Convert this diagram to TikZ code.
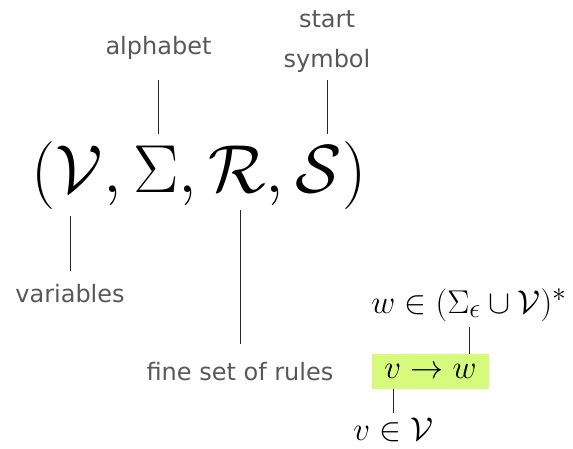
\documentclass[tikz,border=0pt]{standalone}
\usepackage{fontspec}
\newfontfamily\labfont{DejaVu Sans}
\definecolor{labgray}{RGB}{88,88,88}
\definecolor{rulegreen}{RGB}{214,250,124}
\newcommand{\tuplemath}[1]{\scalebox{2.733}{\Huge $#1$}}
\newcommand{\rulemath}[1]{\scalebox{1.3264}{\Huge $#1$}}
\begin{document}
\begin{tikzpicture}[x=1pt,y=-1pt,
  lab/.style={inner sep=0pt, text=labgray, font=\labfont\fontsize{24}{40}\selectfont},
  mathnode/.style={inner sep=0pt},
  conn/.style={draw=black!85, line width=0.8pt},
  rulebox/.style={fill=rulegreen, inner sep=0pt, minimum width=117pt, minimum height=35pt}]
\useasboundingbox (0,0) rectangle (573,449);
% main tuple
\node[mathnode, anchor=base] (tuple) at (199,193) {\tuplemath{(\mathcal{V},\Sigma,\mathcal{R},\mathcal{S})}};
% labels
\node[lab, anchor=base] (alphabet) at (158.5,55) {alphabet};
\node[lab, anchor=south, align=center] (start) at (327,73) {start\\symbol};
\node[lab, anchor=base] (variables) at (70,302) {variables};
\node[lab, anchor=base] (rules) at (240,380) {fine set of rules};
% connectors of the tuple
\draw[conn, shorten <=20pt, shorten >=8pt] (alphabet.south) -- (alphabet.south |- tuple.north);
\draw[conn, shorten <=7pt, shorten >=8pt] (start.south) -- (start.south |- tuple.north);
\draw[conn, shorten <=13pt, shorten >=6pt] (variables.north) -- (variables.north |- tuple.south);
\draw[conn, shorten <=18pt] (rules.north) -- (rules.north |- tuple.south);
% rule box
\node[rulebox] (rule) at (430.5,371.5) {\rulemath{v \to w}};
\node[mathnode, anchor=base] (wset) at (469,313) {\rulemath{w \in (\Sigma_\epsilon \cup \mathcal{V})^*}};
\node[mathnode, anchor=base] (vset) at (393.5,440) {\rulemath{v \in \mathcal{V}}};
\draw[conn, shorten <=6pt] (wset.south) -- (wset.south |- rule.north);
\draw[conn, shorten <=4pt] (vset.north) -- (vset.north |- rule.south);
\end{tikzpicture}
\end{document}
